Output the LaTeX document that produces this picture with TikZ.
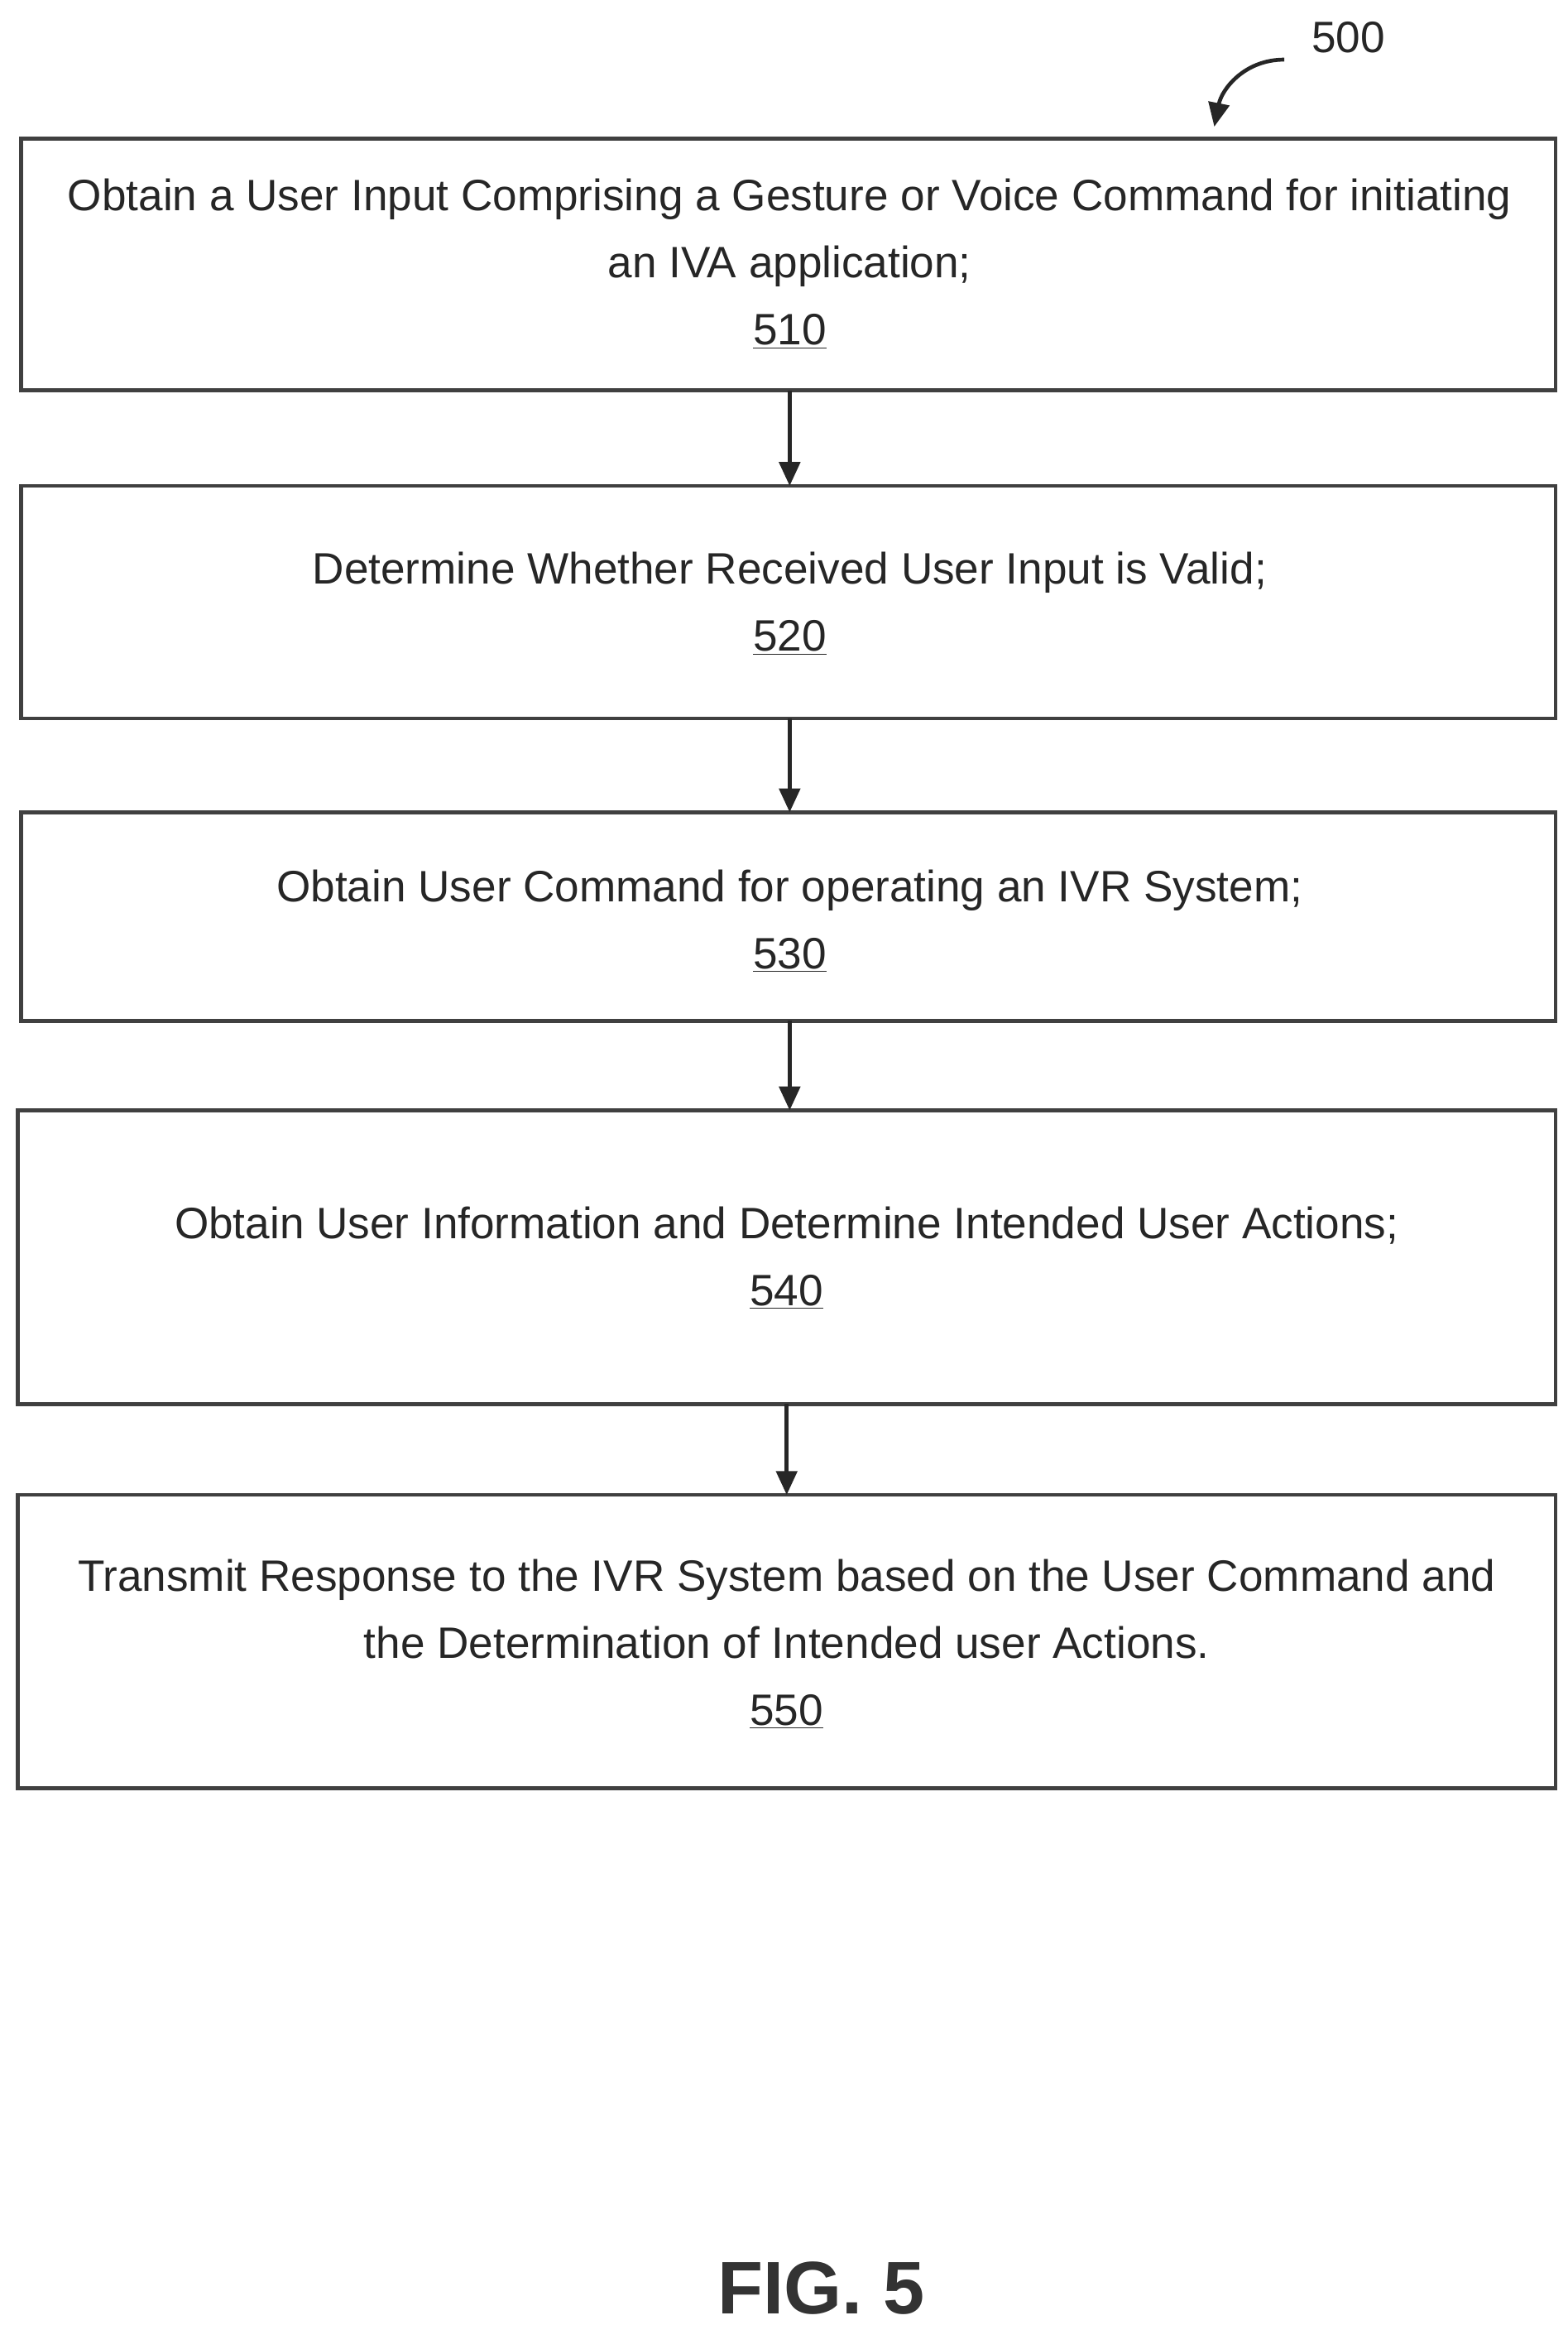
\documentclass[tikz,border=0pt]{standalone}
\usepackage{fontspec}
\setmainfont{Liberation Sans}
\usetikzlibrary{arrows.meta}
\begin{document}
\begin{tikzpicture}[x=1pt,y=-1pt,
  stepbox/.style={draw=black!75,line width=2.6pt,inner sep=0pt},
  txt/.style={align=center,font=\fontsize{29.5}{45}\selectfont,text=black!85},
  conn/.style={draw=black!85,line width=2.6pt,-{Triangle[length=16pt,width=14pt]}}]
\useasboundingbox (0,0) rectangle (1052,1560);
\path[stepbox] (14,93) rectangle (1044,262);
\path[stepbox] (14,326) rectangle (1044,482);
\path[stepbox] (14,545) rectangle (1044,685);
\path[stepbox] (12,745) rectangle (1044,942);
\path[stepbox] (12,1003) rectangle (1044,1200);
\coordinate (b1t) at (530,93); \coordinate (b1b) at (530,262);
\coordinate (b2t) at (530,326); \coordinate (b2b) at (530,482);
\coordinate (b3t) at (530,545); \coordinate (b3b) at (530,685);
\coordinate (b4t) at (530,745); \coordinate (b4b) at (528,942);
\coordinate (b5t) at (528,1003);
\node[txt] (t1) at (530,177) {Obtain a User Input Comprising a Gesture or Voice Command for initiating\\an IVA application;\\\underline{510}};
\node[txt] (t2) at (530,405) {Determine Whether Received User Input is Valid;\\\underline{520}};
\node[txt] (t3) at (530,618) {Obtain User Command for operating an IVR System;\\\underline{530}};
\node[txt] (t4) at (528,844) {Obtain User Information and Determine Intended User Actions;\\\underline{540}};
\node[txt] (t5) at (528,1103) {Transmit Response to the IVR System based on the User Command and\\the Determination of Intended user Actions.\\\underline{550}};
\draw[conn] (b1b) -- (b2t);
\draw[conn] (b2b) -- (b3t);
\draw[conn] (b3b) -- (b4t);
\draw[conn] (b4b) -- (b5t);
\node[txt] (lbl) at (905,25) {500};
\coordinate (a0) at (862,40);
\coordinate (a1) at (815,85);
\draw[conn] (a0) .. controls (835,40) and (820,60) .. (a1);
\node[font=\bfseries\fontsize{50}{50}\selectfont,text=black!80] (fig) at (551,1535) {FIG. 5};
\end{tikzpicture}
\end{document}
